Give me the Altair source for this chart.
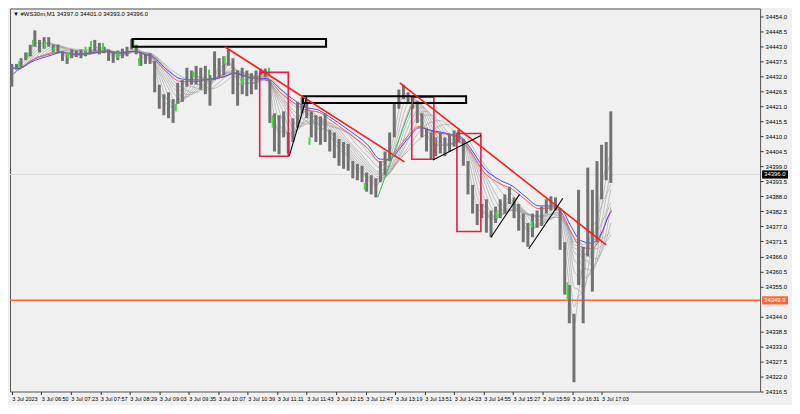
import json
import altair as alt
import pandas as pd

# ---------------- data ----------------
header_text = "▼ #WS30m,M1  34397.0 34401.0 34393.0 34396.0"

x_tick_labels = ["3 Jul 2023", "3 Jul 06:50", "3 Jul 07:23", "3 Jul 07:57", "3 Jul 08:29",
                 "3 Jul 09:03", "3 Jul 09:35", "3 Jul 10:07", "3 Jul 10:39", "3 Jul 11:11",
                 "3 Jul 11:43", "3 Jul 12:15", "3 Jul 12:47", "3 Jul 13:19", "3 Jul 13:51",
                 "3 Jul 14:23", "3 Jul 14:55", "3 Jul 15:27", "3 Jul 15:59", "3 Jul 16:31",
                 "3 Jul 17:03"]
x_tick_bars = [0, 32, 64, 96, 128, 160, 192, 224, 256, 288, 320, 352, 384, 416, 448,
               480, 512, 544, 576, 608, 640]

y_tick_values = [34454.0, 34448.5, 34443.0, 34437.5, 34432.0, 34426.5, 34421.0, 34415.5,
                 34410.0, 34404.5, 34399.0, 34393.5, 34388.0, 34382.5, 34377.0, 34371.5,
                 34366.0, 34360.5, 34355.0, 34344.0, 34338.5, 34333.0, 34327.5, 34322.0,
                 34316.5]

# price bars sampled every 5 one-minute bars
highs = [34436.5, 34436.5, 34438.6, 34440.7, 34443.5, 34448.8, 34445.3, 34446.3, 34446.3, 34443.5,
         34443.5, 34441.1, 34440.0, 34441.8, 34441.4, 34441.8, 34441.4, 34442.8, 34445.3, 34444.2,
         34442.8, 34441.8, 34441.1, 34441.4, 34442.1, 34442.8, 34445.6, 34443.5, 34440.7, 34440.0,
         34440.4, 34437.6, 34428.9, 34425.4, 34426.1, 34423.6, 34429.6, 34430.6, 34435.1, 34434.1,
         34435.8, 34435.1, 34435.8, 34432.4, 34441.1, 34438.6, 34439.3, 34441.8, 34438.6, 34434.1,
         34435.1, 34434.1, 34433.1, 34434.1, 34434.8, 34434.8, 34430.6, 34418.4, 34417.7, 34419.1,
         34411.4, 34416.6, 34422.6, 34424.3, 34423.6, 34419.1, 34417.7, 34417.3, 34418.4, 34412.4,
         34411.4, 34409.0, 34407.9, 34407.2, 34400.9, 34399.9, 34399.2, 34396.7, 34395.7, 34394.6,
         34400.9, 34404.4, 34411.4, 34421.9, 34427.1, 34428.9, 34426.1, 34424.7, 34422.9, 34418.4,
         34413.1, 34411.4, 34409.6, 34411.4, 34409.6, 34410.7, 34412.1, 34412.4, 34409.0, 34400.9,
         34392.2, 34385.2, 34385.2, 34386.9, 34382.8, 34384.2, 34386.9, 34388.7, 34391.5, 34387.6,
         34385.2, 34381.7, 34378.2, 34381.7, 34382.8, 34384.2, 34386.9, 34388.0, 34387.6, 34383.5,
         34371.2, 34355.5, 34345.0, 34390.4, 34369.5, 34398.5, 34390.4, 34400.9, 34406.9, 34407.9,
         34419.1]
lows = [34428.2, 34434.4, 34435.1, 34437.9, 34439.3, 34442.8, 34440.7, 34442.1, 34442.8, 34440.7,
        34440.4, 34437.6, 34436.5, 34438.6, 34439.0, 34438.6, 34439.3, 34440.0, 34441.1, 34440.0,
        34440.4, 34437.6, 34436.9, 34437.9, 34438.6, 34439.3, 34441.8, 34440.0, 34435.8, 34436.5,
        34436.5, 34426.1, 34420.1, 34417.7, 34416.6, 34414.9, 34421.9, 34422.6, 34428.2, 34428.9,
        34428.9, 34427.1, 34425.4, 34421.2, 34430.6, 34431.6, 34432.4, 34435.8, 34425.4, 34421.2,
        34425.4, 34424.7, 34425.4, 34427.1, 34432.4, 34431.6, 34414.9, 34404.4, 34403.4, 34409.6,
        34403.7, 34407.9, 34413.1, 34418.4, 34416.6, 34409.6, 34407.9, 34406.9, 34407.9, 34404.4,
        34402.0, 34399.2, 34398.1, 34397.4, 34394.6, 34393.9, 34393.2, 34389.7, 34388.7, 34387.6,
        34393.2, 34395.7, 34400.9, 34409.6, 34420.1, 34423.6, 34421.9, 34420.1, 34414.9, 34409.6,
        34404.4, 34401.6, 34402.7, 34403.7, 34402.7, 34404.4, 34406.2, 34407.9, 34399.2, 34388.7,
        34381.7, 34377.5, 34380.0, 34374.7, 34373.0, 34378.2, 34380.0, 34381.7, 34385.2, 34380.0,
        34375.4, 34371.2, 34369.5, 34373.0, 34376.5, 34377.2, 34381.7, 34382.8, 34382.8, 34368.4,
        34352.0, 34341.5, 34319.9, 34355.5, 34341.5, 34366.0, 34353.1, 34371.2, 34386.9, 34393.9,
        34392.9]
bar_index = [5 * i for i in range(len(highs))]

# green (highlighted) bars
green_bar = [8, 17, 23, 36, 46, 61, 80, 86, 99, 115, 132, 138, 178, 197, 214, 231, 250, 279,
             283, 323, 383, 459, 526, 564, 603]
green_high = [34437.6, 34440.7, 34445.3, 34444.6, 34442.8, 34440.7, 34442.8, 34444.9, 34444.2,
              34440.7, 34445.3, 34438.6, 34421.9, 34433.7, 34434.4, 34439.3, 34431.6, 34435.1,
              34417.7, 34409.6, 34392.9, 34409.6, 34382.7, 34378.9, 34356.5]
green_low = [34435.1, 34438.6, 34442.8, 34442.1, 34440.7, 34438.6, 34440.7, 34442.8, 34441.4,
             34438.6, 34442.8, 34435.8, 34419.1, 34431.6, 34432.4, 34436.5, 34428.9, 34432.4,
             34413.1, 34406.9, 34390.4, 34407.2, 34380.0, 34376.5, 34350.3]

# slow moving averages (blue / red)
ma_bar = [-2, 8, 19, 32, 43, 53, 68, 85, 103, 116, 132, 145, 152, 166, 184, 200, 215, 229, 242,
          257, 278, 292, 305, 318, 334, 344, 365, 386, 400, 410, 421, 431, 442, 456, 477, 488,
          498, 512, 530, 543, 557, 572, 588, 596, 606, 617, 628, 635, 641, 649, 651]
ma_blue = [34435.1, 34434.8, 34436.9, 34438.6, 34439.7, 34440.7, 34440.0, 34440.4, 34441.1,
           34440.4, 34441.1, 34440.0, 34439.3, 34435.1, 34431.0, 34430.6, 34431.0, 34431.6,
           34433.1, 34431.6, 34431.0, 34427.1, 34423.6, 34420.8, 34419.4, 34417.3, 34412.4,
           34406.9, 34401.6, 34401.6, 34405.5, 34409.6, 34413.1, 34412.1, 34410.7, 34409.6,
           34405.5, 34398.5, 34393.9, 34391.8, 34388.0, 34384.5, 34384.5, 34383.5, 34377.5,
           34371.9, 34370.9, 34371.9, 34375.4, 34381.7, 34382.4]
ma_red = [34435.1, 34435.0, 34437.4, 34439.2, 34440.2, 34441.0, 34440.2, 34440.4, 34441.0,
          34440.3, 34441.1, 34439.8, 34438.8, 34434.2, 34430.0, 34430.0, 34430.8, 34431.8,
          34433.2, 34431.4, 34430.4, 34425.9, 34422.4, 34419.8, 34418.7, 34416.4, 34411.2,
          34405.6, 34400.5, 34401.8, 34406.4, 34410.6, 34413.6, 34411.8, 34410.3, 34409.0,
          34404.3, 34397.0, 34392.6, 34390.6, 34386.9, 34383.5, 34383.8, 34382.3, 34375.5,
          34369.6, 34368.8, 34370.5, 34375.0, 34382.0, 34383.0]

# fan of faster averages: trailing window lengths (in samples)
fan_frames = [1, 2, 3, 4, 5, 6, 7, 8, 10, 12]

# drawn objects
red_box_x1 = [269, 434, 483]
red_box_x2 = [300, 458, 509]
red_box_top = [34433.4, 34424.3, 34411.0]
red_box_bottom = [34402.7, 34401.6, 34375.1]

black_box_x1 = [131, 316]
black_box_x2 = [341, 493]
black_box_top = [34445.6, 34424.7]
black_box_bottom = [34442.8, 34422.2]

red_line_x1 = [231, 421]
red_line_x2 = [426, 645]
red_line_y1 = [34442.8, 34429.6]
red_line_y2 = [34400.6, 34370.2]

black_line_x1 = [301, 457, 520, 561]
black_line_x2 = [320, 509, 551, 598]
black_line_y1 = [34402.7, 34401.3, 34373.0, 34368.8]
black_line_y2 = [34424.3, 34410.3, 34388.7, 34387.3]

green_line_x1 = [397]
green_line_x2 = [435]
green_line_y1 = [34387.6]
green_line_y2 = [34422.6]

orange_level = 34349.9
bid_level = 34396.0

# ---------------- chart ----------------
W, H = 752, 384
BG = "#f0f0f0"
FONT = "Liberation Sans"
x_dom = [-2, 812]
y_dom = [34316.5, 34456.8]

label_expr = json.dumps(x_tick_labels) + "[round(datum.value / 32)]"

X_AXIS = alt.Axis(values=x_tick_bars, labelExpr=label_expr, title=None, grid=False,
                  labelAlign="left", labelFontSize=5.5, labelFont=FONT, labelColor="#000",
                  tickSize=3, tickColor="#333", domain=False, labelPadding=2,
                  labelOverlap=False, labelFlush=False, labelBound=False)
Y_AXIS = alt.Axis(orient="right", values=y_tick_values, format=".1f", title=None,
                  grid=False, labelFontSize=6, labelFont=FONT, labelColor="#000",
                  tickSize=3, tickColor="#333", domain=False, labelPadding=2,
                  labelOverlap=False, labelFlush=False, labelBound=False)
X_SCALE = alt.Scale(domain=x_dom, nice=False, zero=False)
Y_SCALE = alt.Scale(domain=y_dom, nice=False, zero=False)

def xs(field):
    return alt.X(f"{field}:Q", scale=X_SCALE, axis=X_AXIS)

def ys(field):
    return alt.Y(f"{field}:Q", scale=Y_SCALE, axis=Y_AXIS)

price_df = pd.DataFrame({"bar": bar_index, "high": highs, "low": lows})
green_df = pd.DataFrame({"bar": green_bar, "high": green_high, "low": green_low})
ma_df = pd.DataFrame({"bar": ma_bar, "blue": ma_blue, "red": ma_red})

# fan lines
fan = alt.Chart(price_df).transform_calculate(mid="(datum.high + datum.low) / 2")
for n in fan_frames:
    fan = fan.transform_window(frame=[-n, 0], sort=[alt.SortField("bar")], **{f"m{n}": "mean(mid)"})
fan = fan.transform_fold([f"m{n}" for n in fan_frames], as_=["ma", "val"]).mark_line(
    color="#a0a0a0", strokeWidth=0.7, opacity=0.9, interpolate="monotone").encode(
    x=xs("bar"), y=ys("val"), detail="ma:N")

bars = alt.Chart(price_df).mark_rule(color="#727272", strokeWidth=3).encode(
    x=xs("bar"), y=ys("high"), y2="low")
gbars = alt.Chart(green_df).mark_rule(color="#3ddc3d", strokeWidth=2).encode(
    x=xs("bar"), y=ys("high"), y2="low")

red_ma = alt.Chart(ma_df).mark_line(color="#ff5050", strokeWidth=1, interpolate="monotone").encode(
    x=xs("bar"), y=ys("red"))
blue_ma = alt.Chart(ma_df).mark_line(color="#4a4aff", strokeWidth=1, interpolate="monotone").encode(
    x=xs("bar"), y=ys("blue"))

lvl_df = pd.DataFrame({"price": [orange_level]})
bid_df = pd.DataFrame({"price": [bid_level]})
orange_rule = alt.Chart(lvl_df).mark_rule(color="#ff6633", strokeWidth=1.5).encode(y=ys("price"))
bid_rule = alt.Chart(bid_df).mark_rule(color="#dadada", strokeWidth=1).encode(y=ys("price"))

rbox_df = pd.DataFrame({"x1": red_box_x1, "x2": red_box_x2, "t": red_box_top, "b": red_box_bottom})
rboxes = alt.Chart(rbox_df).mark_rect(fillOpacity=0, stroke="#e0204a", strokeWidth=1.6).encode(
    x=xs("x1"), x2="x2", y=ys("t"), y2="b")
bbox_df = pd.DataFrame({"x1": black_box_x1, "x2": black_box_x2, "t": black_box_top, "b": black_box_bottom})
bboxes = alt.Chart(bbox_df).mark_rect(fillOpacity=0, stroke="#000", strokeWidth=2).encode(
    x=xs("x1"), x2="x2", y=ys("t"), y2="b")

rl_df = pd.DataFrame({"x1": red_line_x1, "x2": red_line_x2, "y1": red_line_y1, "y2": red_line_y2})
rlines = alt.Chart(rl_df).mark_rule(color="#ff1a1a", strokeWidth=1.6).encode(
    x=xs("x1"), x2="x2", y=ys("y1"), y2="y2")
bl_df = pd.DataFrame({"x1": black_line_x1, "x2": black_line_x2, "y1": black_line_y1, "y2": black_line_y2})
blines = alt.Chart(bl_df).mark_rule(color="#000", strokeWidth=1.1).encode(
    x=xs("x1"), x2="x2", y=ys("y1"), y2="y2")
gl_df = pd.DataFrame({"x1": green_line_x1, "x2": green_line_x2, "y1": green_line_y1, "y2": green_line_y2})
glines = alt.Chart(gl_df).mark_rule(color="#2ebd5a", strokeWidth=1).encode(
    x=xs("x1"), x2="x2", y=ys("y1"), y2="y2")

# price tags on the right axis
tag_df = pd.DataFrame({"price": [bid_level, orange_level],
                       "label": [f"{bid_level:.1f}", f"{orange_level:.1f}"],
                       "bg": ["#000000", "#ff6633"]})
tag_bg = alt.Chart(tag_df).transform_calculate(
    top="datum.price + 1.5", bot="datum.price - 1.5").mark_rect().encode(
    x=alt.value(W + 2), x2=alt.value(W + 28), y=ys("top"), y2="bot",
    color=alt.Color("bg:N", scale=None))
tag_txt = alt.Chart(tag_df).mark_text(align="left", baseline="middle", fontSize=6, font=FONT,
                                      color="#fff").encode(
    x=alt.value(W + 4), y=ys("price"), text="label:N")

hdr_df = pd.DataFrame({"t": [header_text]})
header = alt.Chart(hdr_df).mark_text(align="left", baseline="middle", fontSize=6, font=FONT,
                                     color="#000").encode(
    x=alt.value(3), y=alt.value(6), text="t:N")

chart = alt.layer(
    bid_rule, orange_rule, fan, red_ma, blue_ma, bars, gbars,
    rboxes, bboxes, rlines, blines, glines, tag_bg, tag_txt, header
).properties(
    width=W, height=H, background=BG,
    padding={"left": 0, "top": 0, "right": 4, "bottom": 2}
).configure_view(
    fill=BG, stroke="#555555", strokeWidth=1
)

chart.save("out.html", embed_options={"renderer": "svg", "actions": False})
